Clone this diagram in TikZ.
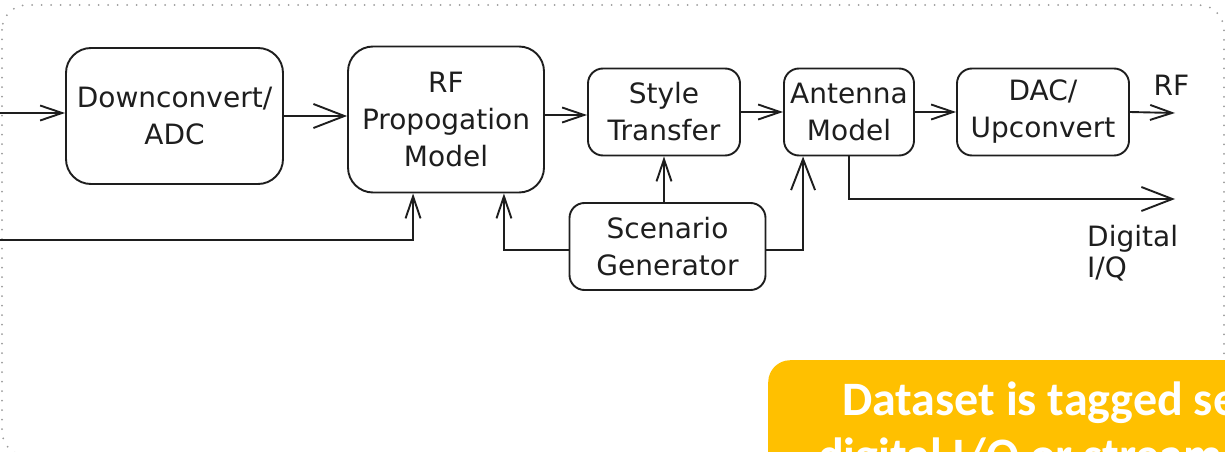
\documentclass[tikz,border=0pt]{standalone}
\usepackage{fontspec}
\setmainfont{DejaVu Sans}
\newfontfamily\notefont{Carlito}
\usetikzlibrary{arrows.meta}
\definecolor{ink}{HTML}{1E1E1E}
\definecolor{noteyellow}{HTML}{FFC000}
\definecolor{framegray}{HTML}{9A9A9A}
\begin{document}
\begin{tikzpicture}[x=1pt,y=-1pt,
  block/.style={draw=ink, line width=1.9pt, rounded corners=15pt, align=center,
    inner sep=0pt, text=ink, font=\fontsize{28}{37}\selectfont},
  bigblock/.style={block, rounded corners=25pt},
  label/.style={text=ink, inner sep=0pt, font=\fontsize{28}{31}\selectfont},
  arr/.style={draw=ink, line width=1.9pt,
    -{Straight Barb[length=22pt,width=15pt]}},
  bigarr/.style={draw=ink, line width=1.9pt,
    -{Straight Barb[length=31pt,width=24pt]}},
  frame/.style={draw=framegray, line width=2pt, line cap=round,
    dash pattern=on 0pt off 9.5pt, rounded corners=25pt},
  note/.style={fill=noteyellow, rounded corners=22pt, inner sep=0pt},
  notetext/.style={text=white, inner sep=0pt, anchor=base west,
    font=\notefont\bfseries\fontsize{48}{56}\selectfont}]

\useasboundingbox (0,0) rectangle (1225,452);
\clip (0,0) rectangle (1225,452);

% surrounding dotted frame
\draw[frame] (2,5) rectangle (1224,456);

% processing blocks
\node[bigblock, minimum width=217pt, minimum height=136pt] (dc)  at (174.5,116) {Downconvert/\\ADC};
\node[bigblock, minimum width=196pt, minimum height=146pt] (rf)  at (446,119.5) {RF\\Propogation\\Model};
\node[block, minimum width=152pt, minimum height=87pt]     (st)  at (664,112) {Style\\Transfer};
\node[block, minimum width=130pt, minimum height=87pt]     (ant) at (849,112) {Antenna\\Model};
\node[block, minimum width=172pt, minimum height=87pt]     (dac) at (1043,112) {DAC/\\Upconvert};
\node[block, minimum width=196pt, minimum height=87pt]     (sg)  at (667.5,246.5) {Scenario\\Generator};

% free ends of the signal paths
\coordinate (in)    at (0,113);
\coordinate (lin)   at (0,240);
\coordinate (rfout) at (1175,113);
\coordinate (iqout) at (1175,199);

% output labels
\node[label] (rflbl) at (1171.5,85.5) {RF};
\node[label, align=left, anchor=north west] (iqlbl) at (1087,225) {Digital\\I/Q};

% main chain
\draw[arr] (in) -- (in -| dc.west);
\draw[bigarr] (dc.east) -- (dc.east -| rf.west);
\draw[arr] ([yshift=-3pt]st.west -| rf.east) -- ([yshift=-3pt]st.west);
\draw[arr] (st.east) -- (ant.west);
\draw[arr] (ant.east) -- (dac.west);
\draw[arr] (dac.east) -- (rfout);
\draw[bigarr] (ant.south) |- (iqout);

% scenario generator feeds
\draw[arr] (sg.north -| st.south) -- (st.south);
\draw[bigarr] ([yshift=-3.5pt]sg.east) -| ([xshift=20pt]ant.south west);
\draw[arr] ([yshift=-3.5pt]sg.west) -| ([xshift=-41pt]rf.south east);
\draw[arr] (lin) -| ([xshift=66pt]rf.south west);

% highlighted note
\node[note, anchor=north west, minimum width=560pt, minimum height=160pt] (nt) at (768,360) {};
\node[notetext] (nt1) at (842,415) {Dataset is tagged sensor};
\node[notetext] (nt2) at (818,471) {digital I/Q or stream};
\end{tikzpicture}
\end{document}
